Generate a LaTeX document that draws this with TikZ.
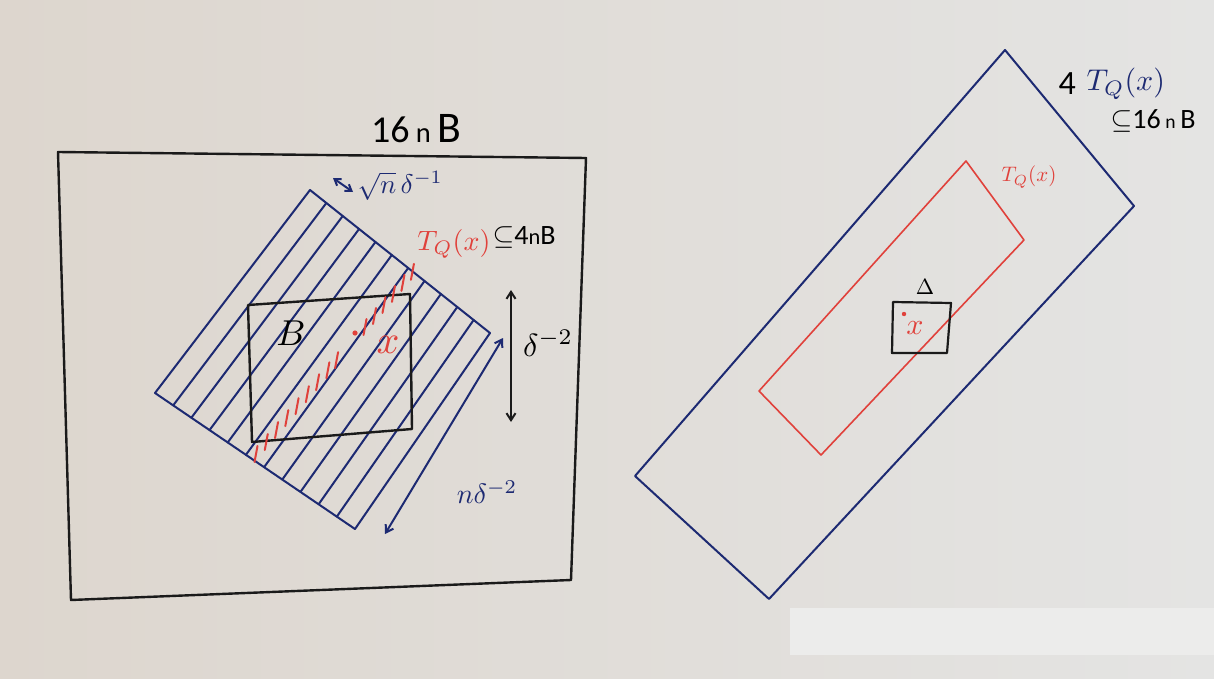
\documentclass[tikz,border=0pt]{standalone}
\usepackage{fontspec}
\newfontfamily\calib{Carlito}
\usetikzlibrary{arrows.meta,calc}
\definecolor{navy}{HTML}{1D2A72}
\definecolor{pen}{HTML}{E0413B}
\definecolor{ink}{HTML}{1A1A1A}
\definecolor{bgl}{HTML}{DDD6CE}
\definecolor{bgr}{HTML}{E4E4E3}
\definecolor{bgpatch}{HTML}{ECECEB}
\tikzset{
  blk/.style={draw=ink, line width=2.4pt, line join=round, line cap=round},
  blu/.style={draw=navy, line width=2pt, line join=round, line cap=round},
  redl/.style={draw=pen, line width=1.6pt, line join=round, line cap=round},
  tick/.style={draw=pen, line width=2pt, line cap=round},
  barb/.style={{Straight Barb[length=7pt,width=9pt]}-{Straight Barb[length=7pt,width=9pt]}},
  lbl/.style={inner sep=0pt},
  sz/.style={scale=#1/10},
}
\begin{document}
\begin{tikzpicture}[x=1pt,y=-1pt]
\useasboundingbox (0,0) rectangle (1214,679);
\shade[left color=bgl, right color=bgr] (0,0) rectangle (1214,679);
\fill[bgpatch] (790,608) rectangle (1214,655);

% ---------- left picture ----------
\coordinate (o1) at (58,152);
\coordinate (o2) at (586,158);
\coordinate (o3) at (571,580);
\coordinate (o4) at (71,600);
\draw[blk] (o1) -- (o2) -- (o3) -- (o4) -- cycle;
\node[lbl, sz=38] (big) at (416,129) {\calib 16\,\scalebox{0.75}{n}\,\scalebox{1.15}{B}};

% striped tube
\coordinate (L) at (155,393);
\coordinate (T) at (310,190);
\coordinate (R) at (490,333);
\coordinate (Bt) at (355,529);
\foreach \i in {0,...,11}{
  \draw[blu] ($(L)!\i/11!(Bt)$) -- ($(T)!\i/11!(R)$);
}
\draw[blu] (T) -- (R);
\draw[blu] (L) -- (Bt);

% box B
\coordinate (b1) at (248,305);
\coordinate (b2) at (410,294);
\coordinate (b3) at (412,429);
\coordinate (b4) at (252,442);
\draw[blk] (b1) -- (b2) -- (b3) -- (b4) -- cycle;
\node[lbl, sz=36] (Blab) at (291,333) {$B$};

% red hatching of T_Q(x)
\coordinate (h1) at (256,454);
\coordinate (h2) at (414,270);
\foreach \s in {0,0.065,0.13,0.195,0.26,0.325,0.39,0.455,0.51}{
  \draw[tick] ($(h1)!\s!(h2)$) +(-1.5,8) -- +(1.5,-8);
}
\foreach \s in {0.69,0.75,0.81,0.87,0.93,0.99}{
  \draw[tick] ($(h1)!\s!(h2)$) +(-1.5,8) -- +(1.5,-8);
}
\fill[pen] (355,333) circle (2.6pt);
\node[lbl, text=pen, sz=40] (xl) at (388,345) {$x$};

% dimension arrows
\coordinate (w1) at (333,178);
\coordinate (w2) at (353,192);
\draw[blu, {Straight Barb[length=6pt,width=8pt]}-{Straight Barb[length=6pt,width=8pt]}] (w1) -- (w2);
\node[lbl, text=navy, sz=27, anchor=west] (wl) at (357,186) {$\sqrt{n}\,\delta^{-1}$};

\node[lbl, text=pen, anchor=east, sz=28] (tq) at (491,244) {$T_Q(x)$};
\node[lbl, anchor=west, sz=28] (inc) at (492,237) {\calib$\subseteq$4\scalebox{0.8}{n}B};

\coordinate (v1) at (511,290);
\coordinate (v2) at (511,422);
\draw[blk, line width=2pt, barb] (v1) -- (v2);
\node[lbl, sz=32] (vl) at (548,343) {$\delta^{-2}$};

\coordinate (d1) at (503,338);
\coordinate (d2) at (385,534);
\draw[blu, barb] (d1) -- (d2);
\node[lbl, text=navy, sz=28] (dl) at (487,492) {$n\delta^{-2}$};

% ---------- right picture ----------
\coordinate (q1) at (1005,50);
\coordinate (q2) at (1134,206);
\coordinate (q3) at (769,599);
\coordinate (q4) at (635,476);
\draw[blu] (q1) -- (q2) -- (q3) -- (q4) -- cycle;

\coordinate (r1) at (966,161);
\coordinate (r2) at (1024,240);
\coordinate (r3) at (821,455);
\coordinate (r4) at (759,391);
\draw[redl] (r1) -- (r2) -- (r3) -- (r4) -- cycle;
\node[lbl, text=pen, sz=21] (tqr) at (1029,177) {$T_Q(x)$};

\coordinate (s1) at (893,302);
\coordinate (s2) at (951,303);
\coordinate (s3) at (947,353);
\coordinate (s4) at (892,353);
\draw[blk, line width=2.2pt] (s1) -- (s2) -- (s3) -- (s4) -- cycle;
\node[lbl, sz=22] (delta) at (925,287) {$\Delta$};
\fill[pen] (904,314) circle (2.2pt);
\node[lbl, text=pen, sz=30] (xr) at (915,328) {$x$};

\node[lbl, anchor=west, sz=34] (four) at (1058,84) {\calib 4};
\node[lbl, text=navy, anchor=west, sz=30] (tqb) at (1086,84) {$T_Q(x)$};
\node[lbl, anchor=west, sz=28] (inc2) at (1110,121) {\calib$\subseteq$16\,\scalebox{0.7}{n}\,B};
\end{tikzpicture}
\end{document}
